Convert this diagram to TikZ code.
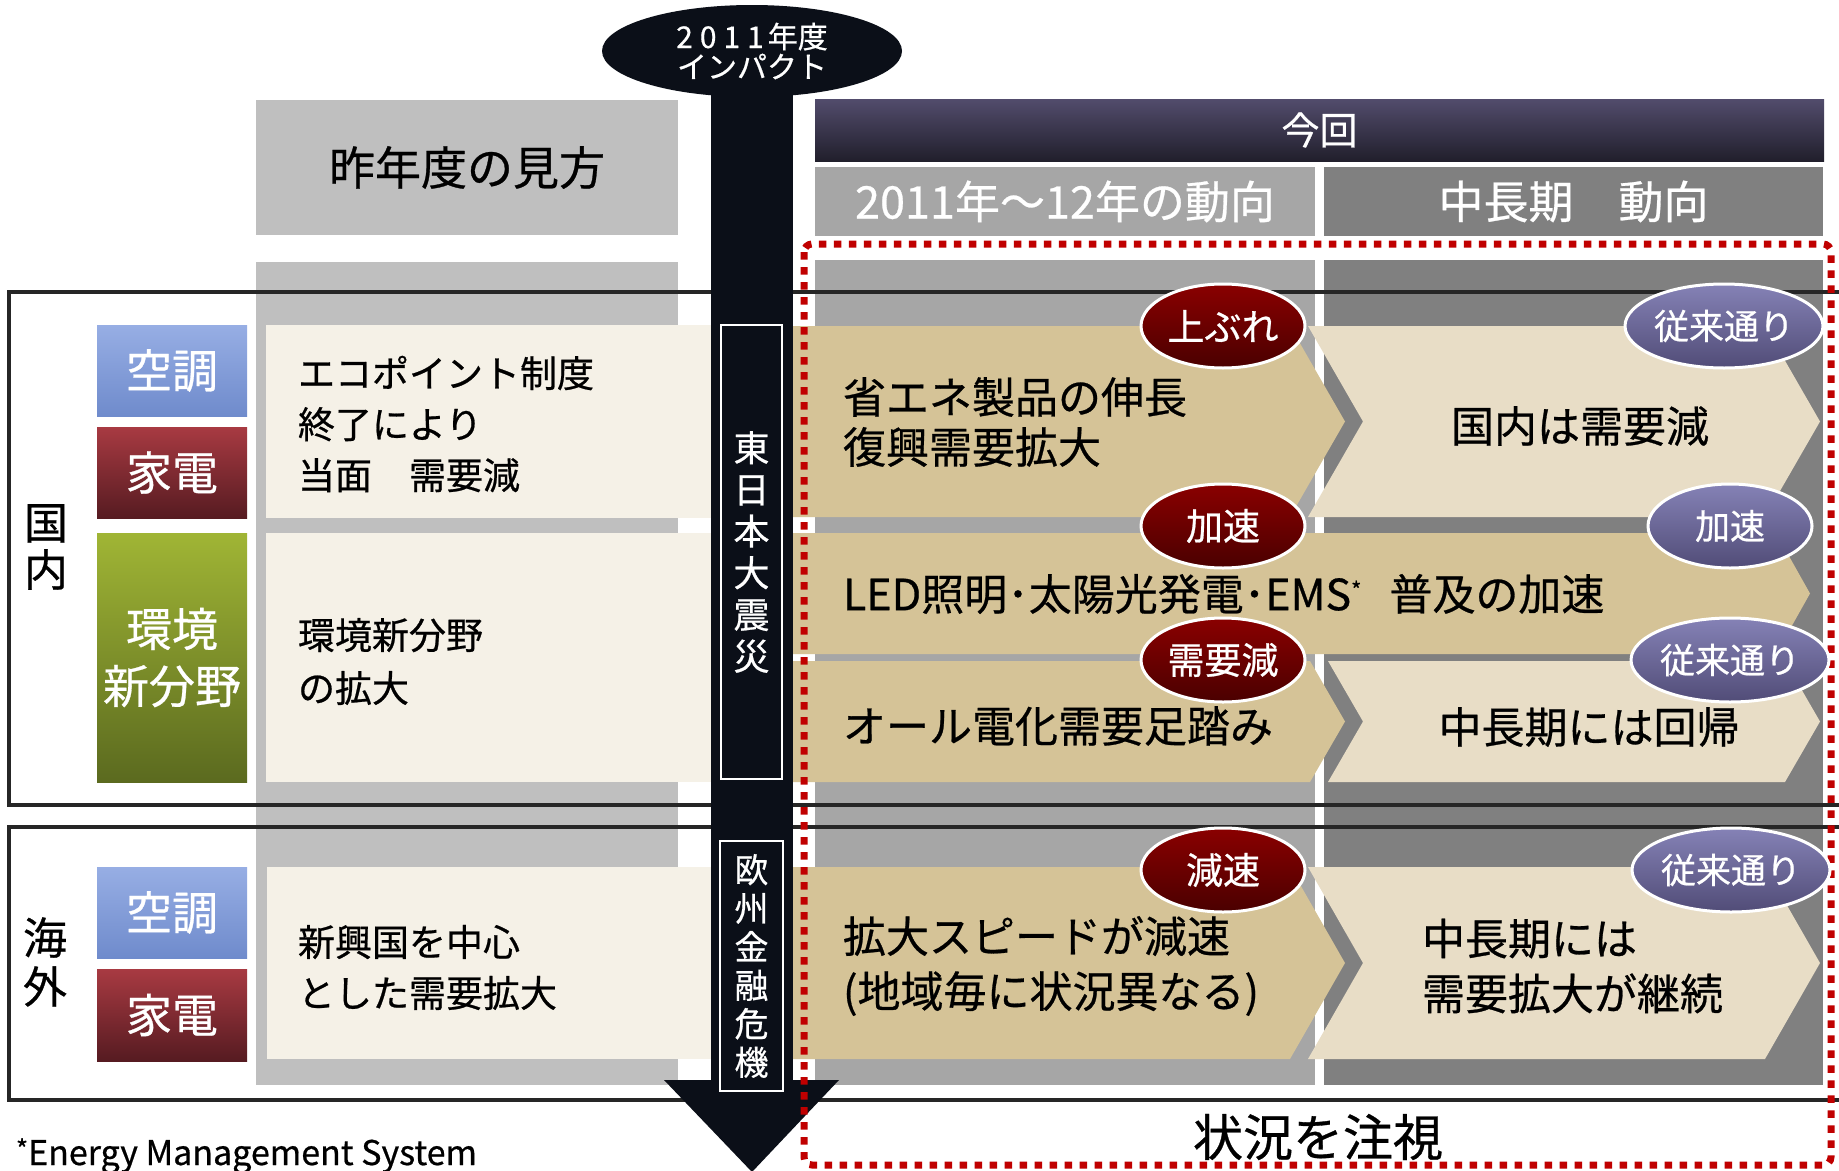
\documentclass[tikz,border=0pt]{standalone}
\usepackage{fontspec}
\setmainfont{Noto Sans CJK JP}[FakeBold=0.6]
\setsansfont{Noto Sans CJK JP}
\usetikzlibrary{shapes.geometric}
\newcommand\fsz[2]{\fontsize{#1}{#2}\selectfont}
\definecolor{lgray}{HTML}{BFBFBF}
\definecolor{mgray}{HTML}{A6A6A6}
\definecolor{dgray}{HTML}{808080}
\definecolor{blk}{HTML}{0B0F18}
\definecolor{tanc}{HTML}{D5C397}
\definecolor{creamR}{HTML}{E8DDC6}
\definecolor{creamL}{HTML}{F5F1E7}
\definecolor{reddot}{HTML}{C00000}
\definecolor{pbA}{HTML}{524C6C}
\definecolor{pbB}{HTML}{211F2C}
\definecolor{blA}{HTML}{97AEE4}
\definecolor{blB}{HTML}{6F8BCC}
\definecolor{rdA}{HTML}{A83A42}
\definecolor{rdB}{HTML}{561B21}
\definecolor{grA}{HTML}{A0B535}
\definecolor{grB}{HTML}{5B6A1F}
\definecolor{rcA}{HTML}{8A0000}
\definecolor{rcB}{HTML}{4A0000}
\definecolor{pcA}{HTML}{8582B6}
\definecolor{pcB}{HTML}{514C77}
\definecolor{boxln}{HTML}{262626}
\begin{document}
\begin{tikzpicture}[x=1pt,y=-1pt,
  every node/.style={inner sep=0pt, outer sep=0pt},
  cat/.style={text=white, font=\fsz{46}{57}, minimum width=150pt, align=center},
  ltext/.style={anchor=west, align=left, font=\fsz{37}{51}},
  ctext/.style={anchor=west, align=left, font=\fsz{43}{50}},
  hdr/.style={text=white, font=\fsz{45}{48}},
  redc/.style={ellipse, draw=white, line width=3pt, minimum width=164pt, minimum height=84pt, top color=rcA, bottom color=rcB, text=white, font=\fsz{37}{38}},
  purc/.style={ellipse, draw=white, line width=3pt, minimum width=164pt, minimum height=84pt, top color=pcA, bottom color=pcB, text=white, font=\fsz{35}{38}},
  vframe/.style={draw=white, line width=2.5pt, text=white, align=center},
  boxline/.style={draw=boxln, line width=4pt}
]
\useasboundingbox (0,0) rectangle (1839,1170);
\clip (0,0) rectangle (1839,1170);
\fill[white] (0,0) rectangle (1839,1170);

% headers
\node[fill=lgray, minimum width=422pt, minimum height=135pt, font=\fsz{46}{50}] (hdrL) at (467,167.5) {昨年度の見方};
\node[top color=pbA, bottom color=pbB, minimum width=1009pt, minimum height=62pt, text=white, font=\fsz{38}{40}] (konkai) at (1319.5,130) {今回};
\node[fill=mgray, minimum width=500pt, minimum height=69pt, hdr] (hdrA) at (1065,201.5) {2011年～12年の動向};
\node[fill=dgray, minimum width=499pt, minimum height=69pt, hdr] (hdrB) at (1573.5,201.5) {中長期　動向};

% columns
\fill[lgray] (256,262) rectangle (678,1085);
\fill[mgray] (815,260) rectangle (1315,1085);
\fill[dgray] (1324,260) rectangle (1823,1085);

% outline boxes
\draw[boxline] (9,292) rectangle (1860,805);
\draw[boxline] (9,827) rectangle (1860,1100);

% region labels
\node[font=\fsz{44}{47}, align=center] (kokunai) at (46,547) {国\\内};
\node[font=\fsz{44}{49}, align=center] (kaigai) at (45,962) {海\\外};

% category boxes
\node[cat, top color=blA, bottom color=blB, minimum height=91pt] (ac1) at (172,370.5) {空調};
\node[cat, top color=rdA, bottom color=rdB, minimum height=91pt] (he1) at (172,472.5) {家電};
\node[cat, top color=grA, bottom color=grB, minimum height=249pt] (env) at (172,657.5) {環境\\新分野};
\node[cat, top color=blA, bottom color=blB, minimum height=91pt] (ac2) at (172,912.5) {空調};
\node[cat, top color=rdA, bottom color=rdB, minimum height=92pt] (he2) at (172,1015) {家電};

% cream boxes (last year's view)
\fill[creamL] (266,325) rectangle (711,518);
\fill[creamL] (266,533) rectangle (711,782);
\fill[creamL] (267,867) rectangle (711,1059);
\node[ltext] (old1) at (298,424) {エコポイント制度\\終了により\\当面　需要減};
\node[ltext, font=\fsz{37}{53}] (old2) at (298,661.5) {環境新分野\\の拡大};
\node[ltext] (old3) at (298,967.5) {新興国を中心\\とした需要拡大};

% chevrons
\fill[creamR] (1308,326) -- (1765,326) -- (1820,421.5) -- (1765,517) -- (1308,517) -- (1363,421.5) -- cycle;
\fill[tanc] (790,326) -- (1290,326) -- (1345,421.5) -- (1290,517) -- (790,517) -- cycle;
\fill[tanc] (790,533) -- (1776,533) -- (1810,593.5) -- (1776,654) -- (790,654) -- cycle;
\fill[creamR] (1328,661) -- (1785,661) -- (1820,721.5) -- (1785,782) -- (1328,782) -- (1363,721.5) -- cycle;
\fill[tanc] (790,661) -- (1310,661) -- (1345,721.5) -- (1310,782) -- (790,782) -- cycle;
\fill[creamR] (1308,867) -- (1765,867) -- (1820,963) -- (1765,1059) -- (1308,1059) -- (1363,963) -- cycle;
\fill[tanc] (790,867) -- (1290,867) -- (1345,963) -- (1290,1059) -- (790,1059) -- cycle;

\node[ctext] (n1) at (843,422) {省エネ製品の伸長\\復興需要拡大};
\node[font=\fsz{43}{48}] (n1r) at (1580,426) {国内は需要減};
\node[ctext] (n2) at (843,594) {LED照明･太陽光発電･EMS\raisebox{12pt}{\fsz{22}{22}*}\hspace{28pt}普及の加速};
\node[ctext] (n3) at (843,726) {オール電化需要足踏み};
\node[font=\fsz{43}{48}] (n3r) at (1589,727) {中長期には回帰};
\node[ctext, font=\fsz{43}{55}] (n4) at (843,966) {拡大スピードが減速\\(地域毎に状況異なる)};
\node[ctext, font=\fsz{43}{55}] (n4r) at (1422,966) {中長期には\\需要拡大が継続};

% impact arrow
\fill[blk] (711,60) rectangle (793,1081);
\fill[blk] (664,1080) -- (839,1080) -- (752,1172) -- cycle;
\node[ellipse, fill=blk, minimum width=300pt, minimum height=92pt, text=white, align=center, font=\fsz{30}{30}] (impact) at (752,51) {2\hspace{7pt}0\hspace{7pt}1\hspace{7pt}1\hspace{4pt}年度\\インパクト};
\node[vframe, minimum width=61pt, minimum height=454pt, font=\fsz{36}{41.7}] (quake) at (751.5,552) {東\\日\\本\\大\\震\\災};
\node[vframe, minimum width=63pt, minimum height=250pt, font=\fsz{34}{38.5}] (euro) at (751.5,966) {欧\\州\\金\\融\\危\\機};

% dotted watch region
\draw[reddot, line width=7pt, dash pattern=on 7.5pt off 7.5pt, rounded corners=8pt] (804,244) rectangle (1831,1165);

% circles
\node[redc] (c1) at (1223,326) {上ぶれ};
\node[purc] (p1) at (1724,326) {従来通り};
\node[redc] (c2) at (1223,526) {加速};
\node[purc] (p2) at (1730,526) {加速};
\node[redc] (c3) at (1223,660) {需要減};
\node[purc] (p3) at (1730,660) {従来通り};
\node[redc] (c4) at (1223,870) {減速};
\node[purc] (p4) at (1731,870) {従来通り};

\node[font=\fsz{50}{50}] (watch) at (1318,1137) {状況を注視};
\node[anchor=base west, font=\fsz{34}{34}] (fn) at (16,1165) {\raisebox{6pt}{\fsz{26}{26}*}Energy Management System};
\end{tikzpicture}
\end{document}
